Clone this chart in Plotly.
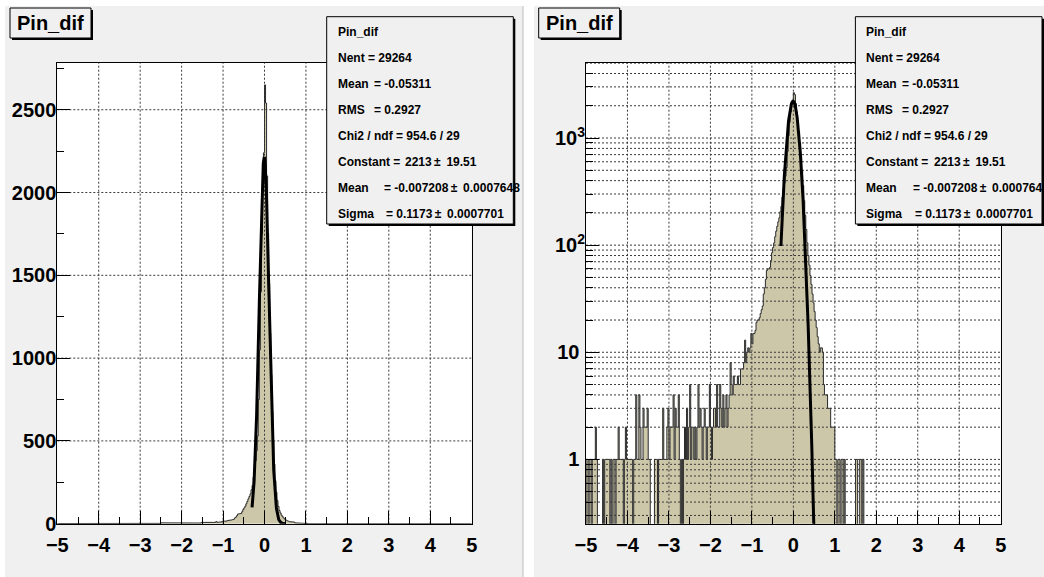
import numpy as np
import plotly.graph_objects as go

# ---------------------------------------------------------------- data
# Pin_dif histogram: 400 bins of width 0.025 on [-5, 5]; bin 0 starts at -5.
x_lo, x_hi, n_bins = -5.0, 5.0, 400

# bins 0..139  (-5.0 .. -1.5)
counts_left_tail = [
    1, 1, 0, 1, 1, 0, 1, 1, 1, 2,
    1, 0, 0, 0, 0, 0, 1, 0, 1, 1,
    1, 1, 1, 0, 1, 0, 1, 1, 0, 1,
    1, 2, 1, 1, 1, 1, 0, 1, 2, 1,
    1, 1, 1, 1, 1, 0, 1, 1, 4, 1,
    1, 4, 2, 1, 1, 3, 2, 2, 2, 3,
    1, 1, 0, 0, 0, 0, 1, 1, 1, 0,
    1, 1, 1, 1, 3, 1, 1, 1, 2, 3,
    1, 2, 2, 2, 4, 1, 3, 2, 2, 4,
    1, 0, 1, 0, 1, 2, 1, 3, 1, 2,
    5, 1, 2, 2, 1, 2, 1, 2, 5, 2,
    3, 2, 1, 2, 3, 2, 1, 2, 2, 5,
    2, 1, 2, 3, 3, 2, 5, 2, 2, 5,
    3, 2, 4, 2, 3, 4, 2, 3, 4, 8,
]

# bins 140..240  (-1.5 .. 1.025)
counts_core = [
    5, 4, 6, 5, 5, 5, 6, 5, 5, 7,
    7, 7, 8, 13, 8, 10, 11, 10, 11, 15,
    12, 15, 15, 16, 19, 20, 20, 21, 23, 25,
    27, 35, 40, 48, 58, 60, 60, 62, 72, 85,
    95, 105, 120, 135, 150, 165, 180, 205, 230, 280,
    330, 380, 440, 530, 750, 1050, 1400, 1750, 2050, 2240,
    2650, 2540, 2100, 1750, 1450, 1150, 900, 680, 500, 360,
    260, 190, 140, 105, 80, 65, 52, 43, 35, 29,
    24, 20, 17, 14, 12, 10, 11, 11, 10, 5,
    4, 4, 4, 3, 3, 3, 2, 2, 2, 2,
    1,
]

# bins 241..399  (1.025 .. 5.0)
counts_right_tail = [
    1, 0, 1, 1, 0, 1, 1, 0, 1,
    0, 0, 0, 0, 0, 0, 0, 0, 0, 0,
    1, 1, 0, 0, 1, 1, 0, 1,
    0, 0, 0, 0, 0, 0, 0, 0, 0, 0, 0, 0, 0, 0, 0, 0, 0, 0, 0, 0,
    0, 0, 0, 0, 0, 0, 0, 0, 0, 0, 0, 0, 0, 0, 0, 0, 0, 0, 0, 0,
    0, 0, 0, 0, 0, 0, 0, 0, 0, 0, 0, 0, 0, 0, 0, 0, 0, 0, 0, 0,
    0, 0, 0, 0, 0, 0, 0, 0, 0, 0, 0, 0, 0, 0, 0, 0, 0, 0, 0, 0,
    0, 0, 0, 0, 0, 0, 0, 0, 0, 0, 0, 0, 0, 0, 0, 0, 0, 0, 0, 0,
    0, 0, 0, 0, 0, 0, 0, 0, 0, 0, 0, 0, 0, 0, 0, 0, 0, 0, 0, 0,
    0, 0, 0, 0, 0, 0, 0, 0, 0, 0, 0, 0,
]

# Gaussian fit result and fit range
fit_constant = 2213.0
fit_mean = -0.007208
fit_sigma = 0.1173
fit_range = [-0.3, 0.5]

# axis ticks
x_ticks = [-5, -4, -3, -2, -1, 0, 1, 2, 3, 4, 5]
lin_y_ticks = [0, 500, 1000, 1500, 2000, 2500]
log_y_ticks = [1, 10, 100, 1000]
log_y_ticktext = ["1\u00a0", "10\u00a0", "10<sup>2</sup>", "10<sup>3</sup>"]

# text of the title and statistics boxes
hist_title = "Pin_dif"
stats_labels = ["Pin_dif", "Nent = 29264", "Mean", "RMS", "Chi2 / ndf = 954.6 / 29",
                "Constant =", "Mean", "Sigma"]
stats_values = ["", "", "= -0.05311", "= 0.2927", "",
                "2213\u2009\u00b1\u2009 19.51", "= -0.007208\u2009\u00b1\u2009 0.0007648",
                "= 0.1173\u2009\u00b1\u2009 0.0007701"]

# ---------------------------------------------------------------- layout helpers
W, H = 1044, 577
FONT = "Liberation Sans, Arial, Helvetica, sans-serif"
FILL = "#cdc7a9"
PAD_BG = "#f0f0f0"


def px(x):
    return x / W


def py(y):
    return 1 - y / H


counts = np.array(counts_left_tail + counts_core + counts_right_tail, dtype=float)
edges = np.linspace(x_lo, x_hi, n_bins + 1)


def step_outline(floor):
    xs, ys = [edges[0]], [floor]
    for i, c in enumerate(counts):
        v = c if c > 0 else floor
        xs += [edges[i], edges[i + 1]]
        ys += [v, v]
    xs.append(edges[-1])
    ys.append(floor)
    return xs, ys


fx = np.linspace(fit_range[0], fit_range[1], 600)
fy = fit_constant * np.exp(-0.5 * ((fx - fit_mean) / fit_sigma) ** 2)

# frames (pixels) of the two pads' plot areas
frame_left = (57.3, 471.7)
frame_right = (586.0, 1000.7)
frame_top, frame_bot = 62.7, 523.7
pad_dx = frame_right[0] - frame_left[0]

lin_range = [0, 2784]
log_range = [-0.60, 3.703]

log_minor = [m * 10 ** d for d in range(-1, 4) for m in range(2, 10)
             if 10 ** log_range[0] <= m * 10 ** d <= 10 ** log_range[1]]
log_grid = sorted(log_minor + log_y_ticks)

GRID = dict(color="#3a3a3a", width=1, dash="2px,2px")

fig = go.Figure()


def grid_trace(xs, ys, xa, ya):
    return go.Scatter(x=xs, y=ys, mode="lines", line=GRID, hoverinfo="skip",
                      showlegend=False, xaxis=xa, yaxis=ya)


def add_panel(xa, ya, floor, y_grid, y_span):
    sx, sy = step_outline(floor)
    fig.add_trace(go.Scatter(x=sx, y=sy, mode="lines", fill="toself", fillcolor=FILL,
                             line=dict(color="#2a2a2a", width=1), showlegend=False,
                             hoverinfo="skip", xaxis=xa, yaxis=ya))
    gx, gy = [], []
    for t in x_ticks[1:-1]:
        gx += [t, t, None]
        gy += [y_span[0], y_span[1], None]
    for t in y_grid:
        gx += [x_lo, x_hi, None]
        gy += [t, t, None]
    fig.add_trace(grid_trace(gx, gy, xa, ya))
    fig.add_trace(go.Scatter(x=fx, y=fy, mode="lines", line=dict(color="black", width=3),
                             showlegend=False, hoverinfo="skip", xaxis=xa, yaxis=ya))


add_panel("x", "y", 0.0, lin_y_ticks[1:], lin_range)
add_panel("x2", "y2", 1e-2, log_grid, [10 ** log_range[0], 10 ** log_range[1]])

tickfont = dict(family=FONT, size=20, color="black", weight="bold")
common_x = dict(range=[x_lo, x_hi], tickmode="array", tickvals=x_ticks, ticks="inside",
                ticklen=13, tickwidth=1, tickcolor="black", showgrid=False, zeroline=False,
                showline=True, linecolor="black", linewidth=1, mirror=True,
                tickfont=tickfont, automargin=False, ticklabelstandoff=3,
                minor=dict(ticks="inside", ticklen=7, tickcolor="black", dtick=0.5, tick0=0,
                           showgrid=False))
ydom = [py(frame_bot), py(frame_top)]

fig.update_layout(
    width=W, height=H, margin=dict(l=0, r=0, t=0, b=0, autoexpand=False),
    paper_bgcolor="white", plot_bgcolor="white", showlegend=False,
    xaxis=dict(domain=[px(frame_left[0]), px(frame_left[1])], anchor="y", **common_x),
    xaxis2=dict(domain=[px(frame_right[0]), px(frame_right[1])], anchor="y2", **common_x),
    yaxis=dict(domain=ydom, anchor="x", range=lin_range, tickmode="array",
               tickvals=lin_y_ticks, ticks="inside", ticklen=13, tickcolor="black",
               showgrid=False, zeroline=False, showline=True, linecolor="black",
               linewidth=1, mirror=True, tickfont=tickfont, automargin=False,
               ticklabelstandoff=-4,
               minor=dict(ticks="inside", ticklen=7, tickcolor="black", dtick=250,
                          tick0=0, showgrid=False)),
    yaxis2=dict(domain=ydom, anchor="x2", type="log", range=log_range, tickmode="array",
                tickvals=log_y_ticks, ticktext=log_y_ticktext, ticks="inside", ticklen=13,
                tickcolor="black", showgrid=False, zeroline=False, showline=True,
                linecolor="black", linewidth=1, mirror=True, tickfont=tickfont,
                automargin=False, ticklabelstandoff=-4,
                minor=dict(ticks="inside", ticklen=7, tickcolor="black",
                           tickmode="array", tickvals=log_minor, showgrid=False)),
)

shapes = []
annotations = []

# pad backgrounds and plot-area backgrounds
for x0, x1 in [(5, 523), (534, 1044)]:
    shapes.append(dict(type="rect", xref="paper", yref="paper", layer="below",
                       x0=px(x0), x1=px(x1), y0=py(577), y1=py(6),
                       fillcolor=PAD_BG, line=dict(width=0)))
shapes.append(dict(type="line", xref="paper", yref="paper", layer="below",
                   x0=px(523), x1=px(523), y0=py(577), y1=py(6),
                   line=dict(color="#bdbdbd", width=1)))
for fl, fr in [frame_left, frame_right]:
    shapes.append(dict(type="rect", xref="paper", yref="paper", layer="below",
                       x0=px(fl), x1=px(fr), y0=py(frame_bot), y1=py(frame_top),
                       fillcolor="white", line=dict(width=0)))


def box(x0, y0, x1, y1, shadow):
    shapes.append(dict(type="rect", xref="paper", yref="paper", layer="above",
                       x0=px(x0 + shadow), x1=px(x1 + shadow), y0=py(y1 + shadow),
                       y1=py(y0 + shadow), fillcolor="black", line=dict(width=0)))
    shapes.append(dict(type="rect", xref="paper", yref="paper", layer="above",
                       x0=px(x0), x1=px(x1), y0=py(y1), y1=py(y0),
                       fillcolor=PAD_BG, line=dict(color="black", width=1)))


def text(x, y, s, size):
    annotations.append(dict(xref="paper", yref="paper", x=px(x), y=py(y), text=s,
                            showarrow=False, xanchor="left", yanchor="middle",
                            font=dict(family=FONT, size=size, color="black", weight="bold")))


value_x = [0, 0, 372.7, 372.7, 0, 404.3, 383.3, 385.0]
line_y0, line_dy = 32.3, 26.0

for k in range(2):
    dx = k * pad_dx
    # histogram title box
    box(10 + dx, 8, 91 + dx, 38, 2)
    text(15 + dx, 23.5, hist_title, 20)
    # statistics box
    box(326.7 + dx, 16.7, 513.3 + dx, 224, 2)
    for j, (lab, val) in enumerate(zip(stats_labels, stats_values)):
        yy = line_y0 + j * line_dy
        text(335.5 + dx, yy, lab, 12)
        if val:
            text(value_x[j] - 1.2 + dx, yy, val, 12)

fig.update_layout(shapes=shapes, annotations=annotations)
fig.write_html("out.html")
